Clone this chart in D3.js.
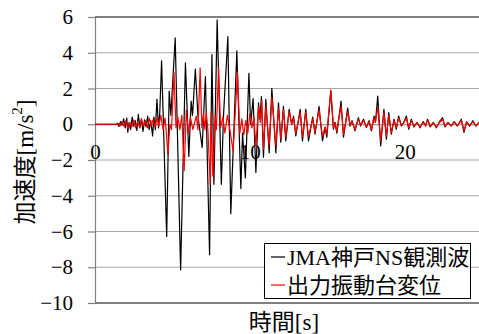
<!DOCTYPE html>
<html><head><meta charset="utf-8">
<script src="https://cdn.jsdelivr.net/npm/d3@7/dist/d3.min.js"></script>
<style>
body{margin:0;background:#fff;}
svg{display:block;}
svg text{font-family:"Liberation Serif","Noto Sans CJK JP",serif;}
</style></head>
<body>
<svg id="chart" width="479" height="334"></svg>
<script>
// ---- data ----
const yTicks = [6, 4, 2, 0, -2, -4, -6, -8, -10];
const xTickLabels = [0, 10, 20];
const seriesNames = ["JMA神戸NS観測波", "出力振動台変位"];
const seriesColors = ["#000000", "#ff0000"];

const blackT = [0,1.4,1.45,1.55,1.65,1.75,1.85,1.95,2.05,2.12,2.2,2.3,2.4,2.5,2.6,2.7,2.8,2.9,3.0,3.1,3.2,3.3,3.4,3.5,3.6,3.72,3.8,3.9,4.0,4.1,4.18,4.3,4.63,4.79,4.9,5.18,5.53,5.84,6.06,6.21,6.3,6.48,6.65,6.92,7.13,7.40,7.55,7.68,7.89,8.16,8.3,8.58,8.77,9.16,9.42,9.53,9.71,9.94,10.05,10.21,10.39,10.56,10.65,10.75,10.88,11.03,11.25,11.42,11.68,11.85,12.0,12.17,12.32,12.54,12.7,12.82,12.97,13.25,13.4,13.61,13.79,14.06,14.21,14.47,14.69,14.86,14.97,15.23,15.4,15.5,15.62,15.89,16.05,16.32,16.47,16.6,16.79,17.01,17.15,17.34,17.53,17.7,17.85,18.02,18.11,18.26,18.45,18.66,18.82,18.97,19.14,19.31,19.46,19.61,19.79,19.94,20.11,20.26,20.43,20.6,20.8,21.0,21.2,21.35,21.48,21.65,21.85,22.05,22.25,22.45,22.6,22.8,23.0,23.2,23.4,23.66,23.83,24.0,24.2,24.4,24.6,24.8];
const blackV = [0,0,0.05,-0.12,0.15,-0.05,0.3,-0.2,0.35,-0.45,0.1,-0.3,0.4,-0.1,0.2,-0.35,0.55,-0.2,0.3,-0.4,0.25,-0.15,0.45,-0.3,0.2,-0.65,0.4,-0.3,1.4,-0.2,0.6,3.54,-6.28,1.85,0.5,4.83,-8.15,3.43,-1.8,1.29,0.5,3.08,0.45,-1.3,2.67,-7.3,3.9,-3.36,5.84,-3.36,0.5,4.9,-5.0,4.1,-3.6,-0.5,-3.0,2.85,0.0,1.44,-2.7,1.2,0.3,1.55,-1.85,1.4,-1.6,2.0,-1.6,1.2,-1.0,1.0,-0.93,0.84,0.0,0.46,-0.65,0.84,-0.93,0.84,-0.93,0.4,-0.56,1.0,-0.93,-0.19,-0.72,1.86,-0.28,0.1,-0.5,1.3,-0.72,0.9,-0.1,0.2,-0.37,0.37,-0.1,0.28,-0.19,0.2,-0.37,0.46,0.1,1.57,-1.21,0.84,-0.84,0.65,-0.56,0.28,-0.28,0.46,-0.1,0.1,0.46,-0.28,0.28,-0.15,0.1,-0.2,0.15,-0.1,0.28,-0.15,0.1,-0.2,0.15,0.37,-0.15,0.1,-0.1,0.15,-0.1,0.28,-0.45,0.15,-0.1,0.2,-0.1,0.1];

const redT = [0,1.4,1.5,1.62,1.75,1.88,2.0,2.12,2.25,2.38,2.5,2.62,2.75,2.88,3.0,3.12,3.25,3.38,3.5,3.62,3.75,3.88,4.0,4.12,4.25,4.4,4.52,4.58,4.71,4.84,4.94,5.10,5.23,5.35,5.48,5.61,5.76,5.90,6.03,6.16,6.32,6.54,6.65,6.79,6.90,7.0,7.1,7.18,7.29,7.44,7.5,7.61,7.76,7.84,7.98,8.11,8.26,8.39,8.55,8.71,8.92,9.03,9.2,9.35,9.48,9.61,9.74,9.87,10.0,10.13,10.26,10.39,10.56,10.68,10.77,10.88,11.03,11.25,11.42,11.68,11.85,12.0,12.17,12.32,12.54,12.7,12.82,12.97,13.25,13.4,13.61,13.79,14.06,14.21,14.47,14.69,14.86,14.97,15.23,15.4,15.5,15.62,15.89,16.05,16.32,16.47,16.6,16.79,17.01,17.15,17.34,17.53,17.7,17.85,18.02,18.11,18.26,18.45,18.66,18.82,18.97,19.14,19.31,19.46,19.61,19.79,19.94,20.11,20.26,20.43,20.6,20.8,21.0,21.2,21.35,21.48,21.65,21.85,22.05,22.25,22.45,22.6,22.8,23.0,23.2,23.4,23.66,23.83,24.0,24.2,24.4,24.6,24.8];
const redV = [0,0,0.05,-0.1,0.15,-0.12,0.2,-0.25,0.1,-0.15,0.25,-0.2,0.15,-0.15,0.3,-0.1,0.2,-0.2,0.35,-0.1,0.25,-0.15,0.4,-0.1,0.5,-0.3,0.35,-0.2,-1.68,0.0,-0.3,2.9,-0.2,0.4,-0.3,0.5,-2.6,0.8,-0.5,0.4,-0.3,0.45,-0.3,3.15,-0.2,0.6,-0.3,0.7,-0.3,-3.36,0.7,-2.9,0.5,-0.3,3.15,-0.2,0.4,-0.5,0.5,-0.3,-1.5,0.2,2.9,-0.5,0.3,-0.6,0.2,-0.5,0.6,-0.2,0.4,-1.2,1.0,0.1,1.3,-1.4,1.0,-1.2,1.5,-1.2,0.9,-0.8,0.8,-0.7,0.7,0.0,0.35,-0.5,0.65,-0.7,0.65,-0.7,0.3,-0.45,0.8,-0.7,-0.15,-0.55,1.92,-0.2,0.1,-0.4,1.0,-0.55,0.7,-0.05,0.15,-0.3,0.3,-0.05,0.2,-0.15,0.15,-0.3,0.35,0.1,0.95,-0.93,0.65,-0.65,0.5,-0.45,0.2,-0.2,0.35,-0.05,0.08,0.35,-0.2,0.2,-0.1,0.08,-0.15,0.1,-0.08,0.22,-0.1,0.08,-0.15,0.1,0.28,-0.1,0.08,-0.08,0.12,-0.08,0.22,-0.35,0.12,-0.08,0.15,-0.08,0.08];

// ---- layout ----
const svg = d3.select("#chart");
const plotL = 95, plotR = 479, plotT = 17, plotB = 303;
const x = d3.scaleLinear().domain([0, 24.8]).range([plotL, plotR]);
const y = d3.scaleLinear().domain([-10, 6]).range([plotB, plotT]);

// gridlines
svg.append("g").selectAll("line").data(yTicks.filter(d => d !== 6 && d !== -10 && d !== 0))
  .join("line")
  .attr("x1", plotL).attr("x2", plotR)
  .attr("y1", d => y(d)).attr("y2", d => y(d))
  .attr("stroke", "#a8a8a8").attr("stroke-width", 1.2);

// top & bottom border lines
svg.append("line").attr("x1", plotL).attr("x2", plotR).attr("y1", y(6)).attr("y2", y(6))
  .attr("stroke", "#000").attr("stroke-width", 1.2);
svg.append("line").attr("x1", plotL).attr("x2", plotR).attr("y1", y(-10)).attr("y2", y(-10))
  .attr("stroke", "#000").attr("stroke-width", 1.2);

// y axis
const yAxis = d3.axisLeft(y).tickValues(yTicks).tickSize(7).tickPadding(15).tickFormat(d3.format("d"));
const gy = svg.append("g").attr("transform", `translate(${plotL},0)`).call(yAxis)
  .attr("font-family", null).attr("font-size", 21);
gy.select(".domain").attr("stroke", "#808080").attr("stroke-width", 1.2);
gy.selectAll(".tick line").attr("stroke", "#808080").attr("stroke-width", 1.2);
gy.selectAll(".tick text").style("font-size", "21px").attr("fill", "#000");

// x axis at y=0 (labels sit below the zero line)
const xAxis = d3.axisBottom(x).tickValues(xTickLabels).tickSize(0).tickPadding(20).tickFormat(d3.format("d"));
const gx = svg.append("g").attr("transform", `translate(0,${y(0)})`).call(xAxis)
  .attr("font-family", null).attr("font-size", 21);
gx.select(".domain").attr("stroke", "#808080").attr("stroke-width", 1);
gx.selectAll(".tick text").style("font-size", "21px").attr("fill", "#000");

// series
const line = d3.line().x(d => x(d[0])).y(d => y(d[1]));
const blackData = blackT.map((t, i) => [t, blackV[i]]);
const redData = redT.map((t, i) => [t, redV[i]]);
svg.append("path").datum(blackData).attr("d", line)
  .attr("fill", "none").attr("stroke", seriesColors[0]).attr("stroke-width", 1.2).attr("stroke-linejoin", "round");
svg.append("path").datum(redData).attr("d", line)
  .attr("fill", "none").attr("stroke", seriesColors[1]).attr("stroke-width", 1.2).attr("stroke-linejoin", "round");

// axis titles
svg.append("text").attr("transform", "translate(25,162) rotate(-90)")
  .attr("text-anchor", "middle").attr("dominant-baseline", "central")
  .style("font-size", "23px").attr("fill", "#000")
  .html('加速度[m/s<tspan baseline-shift="super" font-size="15">2</tspan>]');
svg.append("text").attr("x", 284).attr("y", 330).attr("text-anchor", "middle")
  .style("font-size", "23px").attr("fill", "#000")
  .text("時間[s]");

// legend
const lg = svg.append("g");
lg.append("rect").attr("x", 264.5).attr("y", 243.5).attr("width", 206).attr("height", 55)
  .attr("fill", "#fff").attr("stroke", "#000").attr("stroke-width", 1);
seriesNames.forEach((name, i) => {
  const cy = 257 + i * 28;
  lg.append("line").attr("x1", 271).attr("x2", 285).attr("y1", cy).attr("y2", cy)
    .attr("stroke", seriesColors[i]).attr("stroke-width", 1.2);
  lg.append("text").attr("x", 287).attr("y", cy + 8)
    .style("font-size", "22px").attr("fill", "#000")
    .text(name);
});
</script>
</body></html>
